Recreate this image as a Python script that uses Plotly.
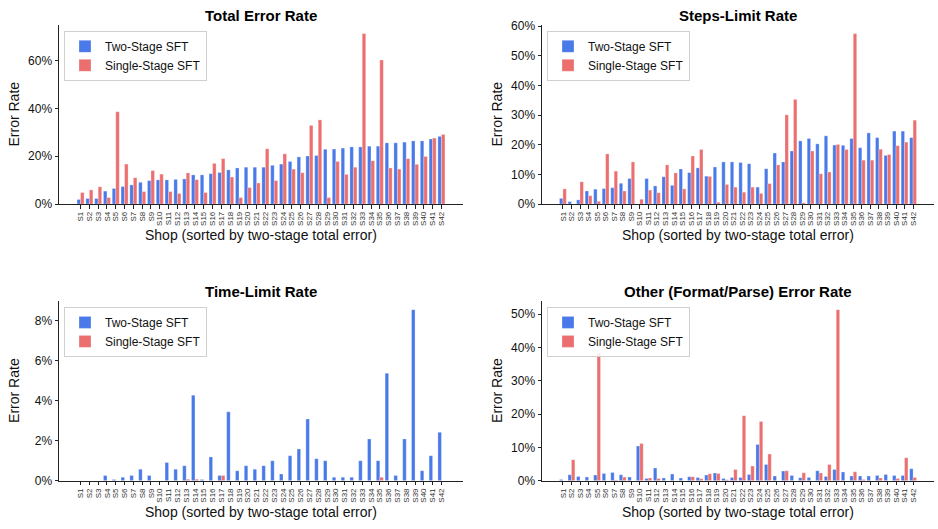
import plotly.graph_objects as go

shops = ["S1", "S2", "S3", "S4", "S5", "S6", "S7", "S8", "S9", "S10",
         "S11", "S12", "S13", "S14", "S15", "S16", "S17", "S18", "S19", "S20",
         "S21", "S22", "S23", "S24", "S25", "S26", "S27", "S28", "S29", "S30",
         "S31", "S32", "S33", "S34", "S35", "S36", "S37", "S38", "S39", "S40",
         "S41", "S42"]

# values in percent
total_two = [1.9, 2.3, 2.3, 5.4, 6.5, 7.3, 8.0, 9.1, 9.8, 10.1,
             10.1, 10.3, 10.5, 12.2, 12.2, 12.7, 13.2, 14.3, 15.1, 15.4,
             15.4, 15.4, 16.2, 16.7, 17.8, 19.7, 20.1, 20.3, 22.9, 23.0,
             23.4, 23.9, 23.9, 24.2, 24.2, 25.6, 25.6, 25.9, 26.4, 26.4,
             27.2, 28.3]
total_single = [4.8, 5.9, 7.2, 2.7, 38.6, 16.7, 11.0, 5.2, 14.0, 12.5,
                5.2, 4.4, 13.0, 10.2, 4.8, 17.0, 19.0, 11.3, 2.7, 6.9,
                8.8, 23.1, 9.8, 21.0, 14.6, 13.1, 32.9, 35.2, 2.7, 17.8,
                12.4, 15.4, 71.3, 18.1, 60.3, 15.1, 14.6, 19.0, 16.6, 19.9,
                27.6, 29.1]

steps_two = [1.9, 0.8, 1.4, 4.4, 5.0, 5.2, 5.5, 7.0, 8.6, 0.0,
             8.6, 6.1, 9.2, 6.3, 11.8, 10.6, 12.2, 9.4, 12.5, 14.2,
             14.2, 14.0, 13.6, 5.7, 11.9, 17.2, 14.2, 17.9, 21.3, 22.1,
             20.3, 23.0, 19.9, 19.8, 22.1, 19.0, 24.0, 22.4, 16.4, 24.6,
             24.6, 22.4]
steps_single = [5.1, 0.0, 7.5, 2.8, 0.9, 16.9, 11.1, 4.4, 14.2, 1.6,
                4.7, 3.8, 13.2, 10.5, 5.1, 16.2, 18.4, 9.3, 0.6, 6.6,
                5.7, 4.0, 5.7, 3.6, 6.9, 13.2, 30.1, 35.3, 0.4, 17.9,
                10.2, 10.8, 20.1, 18.4, 57.5, 14.8, 14.8, 18.5, 16.7, 19.7,
                20.9, 28.3]

time_two = [0.0, 0.0, 0.0, 0.26, 0.06, 0.18, 0.26, 0.58, 0.26, 0.0,
            0.91, 0.58, 0.75, 4.27, 0.06, 1.19, 0.26, 3.44, 0.5, 0.75,
            0.58, 0.75, 1.0, 0.34, 1.25, 1.59, 3.08, 1.10, 1.0, 0.18,
            0.18, 0.18, 1.0, 2.09, 1.0, 5.37, 0.26, 2.09, 8.54, 0.5,
            1.25, 2.42]
time_single = [0.0, 0.0, 0.0, 0.0, 0.0, 0.0, 0.0, 0.0, 0.0, 0.0,
               0.0, 0.0, 0.08, 0.08, 0.0, 0.0, 0.26, 0.0, 0.0, 0.0,
               0.0, 0.0, 0.0, 0.0, 0.0, 0.0, 0.0, 0.0, 0.0, 0.0,
               0.0, 0.0, 0.0, 0.0, 0.18, 0.0, 0.0, 0.0, 0.0, 0.0,
               0.0, 0.0]

other_two = [0.4, 1.8, 1.3, 1.1, 1.7, 2.2, 2.5, 1.8, 1.1, 10.4,
             0.7, 3.8, 0.8, 2.0, 0.8, 1.2, 1.0, 1.7, 2.3, 0.7,
             1.0, 1.0, 1.9, 10.9, 4.9, 1.4, 2.9, 1.6, 0.9, 1.0,
             3.0, 1.3, 3.4, 2.6, 1.4, 1.4, 1.4, 1.6, 1.9, 1.6,
             1.6, 3.6]
other_single = [0.0, 6.3, 0.0, 0.0, 38.3, 0.0, 0.2, 1.1, 0.0, 11.2,
                0.8, 0.7, 0.0, 0.0, 0.0, 1.2, 0.6, 2.1, 2.2, 0.3,
                3.4, 19.5, 4.4, 17.8, 8.0, 0.0, 3.0, 0.0, 2.4, 0.0,
                2.3, 4.9, 51.4, 0.0, 2.7, 0.4, 0.0, 0.8, 0.0, 0.7,
                6.9, 1.0]

series_names = ["Two-Stage SFT", "Single-Stage SFT"]
titles = ["Total Error Rate", "Steps-Limit Rate", "Time-Limit Rate",
          "Other (Format/Parse) Error Rate"]
x_title = "Shop (sorted by two-stage total error)"
y_title = "Error Rate"

panels = [(total_two, total_single), (steps_two, steps_single),
          (time_two, time_single), (other_two, other_single)]
y_max = [74.9, 60.4, 8.97, 53.97]
y_dtick = [20, 10, 2, 10]

BLUE = "#4a7ae9"
RED = "#ec6f70"
FONT = "Liberation Sans, Arial, Helvetica, sans-serif"
W, H = 938, 529

# pixel layout of each panel: (left, right, top, bottom)
boxes = [(59, 463, 19.5, 203), (542, 934, 19.5, 203),
         (59, 463, 302.5, 486.7), (542, 934, 302.5, 486.7)]

fig = go.Figure()
annotations = []
layout_axes = {}
for k, ((two, single), box) in enumerate(zip(panels, boxes)):
    n = k + 1
    xa = "x" if n == 1 else f"x{n}"
    ya = "y" if n == 1 else f"y{n}"
    lg = "legend" if n == 1 else f"legend{n}"
    for vals, name, col in ((two, series_names[0], BLUE), (single, series_names[1], RED)):
        fig.add_trace(go.Bar(
            x=shops, y=vals, name=name, xaxis=xa, yaxis=ya, legend=lg,
            marker=dict(color=col, line=dict(color="rgba(255,255,255,0.55)", width=0.5)),
            showlegend=True, hoverinfo="x+y+name",
        ))
    l, r, t, b = box
    xd = [l / W, r / W]
    yd = [1 - b / H, 1 - t / H]
    xkey = "xaxis" if n == 1 else f"xaxis{n}"
    ykey = "yaxis" if n == 1 else f"yaxis{n}"
    layout_axes[xkey] = dict(
        domain=xd, anchor=ya, type="category", range=[-2.45, 43.45],
        tickmode="linear", dtick=1, tick0=0,
        showline=True, linecolor="#222", linewidth=1, showgrid=False, zeroline=False,
        ticks="outside", ticklen=3.5, tickwidth=0.8, tickcolor="#222",
        tickangle=-90, tickfont=dict(size=8, color="#333", family=FONT),
    )
    layout_axes[ykey] = dict(
        domain=yd, anchor=xa, range=[0, y_max[k]], dtick=y_dtick[k], tick0=0,
        ticksuffix="%", showline=True, linecolor="#222", linewidth=1,
        showgrid=False, zeroline=False, ticks="outside", ticklen=3.5,
        tickwidth=0.8, tickcolor="#222", tickfont=dict(size=12, color="#111", family=FONT),
    )
    layout_axes[lg] = dict(
        x=(l + 5) / W, y=1 - (t + 6) / H, xanchor="left", yanchor="top",
        bgcolor="rgba(255,255,255,0.85)", bordercolor="#d0d0d0", borderwidth=1,
        font=dict(size=12, color="#111", family=FONT), tracegroupgap=0,
        itemclick=False, itemdoubleclick=False,
    )
    cx = (l + r) / 2 / W
    annotations.append(dict(text=f"<b>{titles[k]}</b>", x=cx, y=1 - (t - 9.5) / H,
                            xref="paper", yref="paper", showarrow=False,
                            xanchor="center", yanchor="middle",
                            font=dict(size=15, color="#000", family=FONT)))
    annotations.append(dict(text=x_title, x=cx, y=1 - (b + 32) / H,
                            xref="paper", yref="paper", showarrow=False,
                            xanchor="center", yanchor="middle",
                            font=dict(size=14, color="#111", family=FONT)))
    annotations.append(dict(text=y_title, x=(l - 45) / W, y=1 - (t + b) / 2 / H,
                            xref="paper", yref="paper", showarrow=False, textangle=-90,
                            xanchor="center", yanchor="middle",
                            font=dict(size=14, color="#111", family=FONT)))

fig.update_layout(
    width=W, height=H, autosize=False,
    margin=dict(l=0, r=0, t=0, b=0),
    paper_bgcolor="white", plot_bgcolor="white",
    barmode="group", bargap=0.2, bargroupgap=0,
    font=dict(family=FONT, color="#111"),
    annotations=annotations,
    **layout_axes,
)

fig.write_html("out.html", include_plotlyjs=True,
               config={"displayModeBar": False},
               post_script="document.body.style.margin='0';document.body.style.overflow='hidden';")
